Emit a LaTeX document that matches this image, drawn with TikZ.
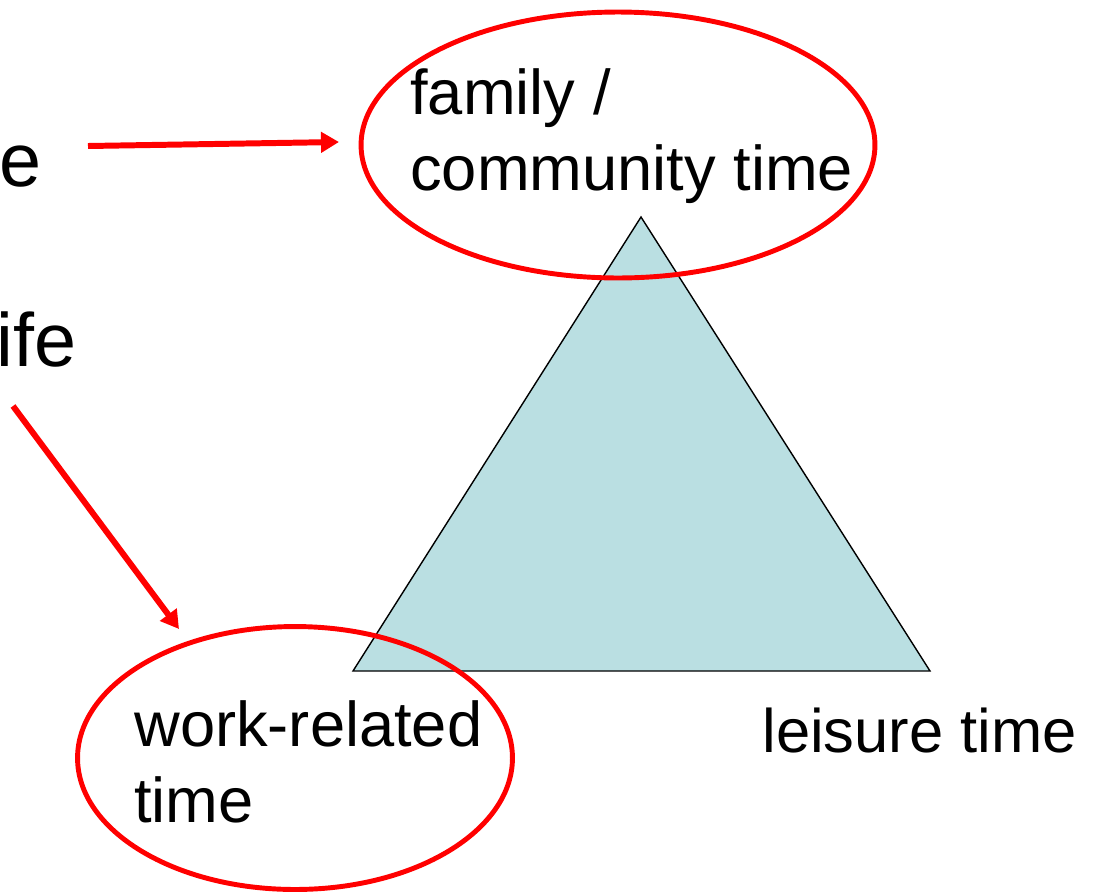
\documentclass[tikz,border=0pt]{standalone}
\usepackage{fontspec}
\setmainfont{Liberation Sans}
\usetikzlibrary{shapes.geometric, arrows.meta}

\definecolor{triblue}{RGB}{186,223,226}

\tikzset{
	lbl/.style = {anchor = base west, inner sep = 0, align = left,
		font = \fontsize{36pt}{42.7pt}\selectfont},
	biglbl/.style = {lbl, font = \fontsize{43pt}{52pt}\selectfont},
	oval/.style = {draw = red, line width = 2.8pt, ellipse, inner sep = 0},
	redarrow/.style = {draw = red, line width = 3.4pt,
		-{Triangle[length = 0.36cm, width = 0.4cm]}}
}

\begin{document}
\begin{tikzpicture}[x = 0.02cm, y = -0.02cm]
						\useasboundingbox (0, 0) rectangle (1101, 893);
						% the time triangle
						\draw[fill = triblue, line width = 0.8pt] (353, 671) -- (641, 217) -- (930, 671) -- cycle;
						% rings round two of the corners
						\node[oval, minimum width = 10.28cm, minimum height = 5.32cm] (famoval) at (618, 145) {};
						\node[oval, minimum width = 8.7cm, minimum height = 5.26cm] (workoval) at (295, 758) {};
						% base of the last line sits at the node's position
						\node[lbl] (famtxt) at (410, 190) {family /\\community time};
						\node[lbl] (worktxt) at (134, 822) {work-related\\time};
						\node[lbl, font = \fontsize{35pt}{42pt}\selectfont] (leistxt) at (762, 752) {leisure time};
						\node[biglbl] (etxt) at (-1, 186) {e};
						\node[biglbl] (ifetxt) at (-4, 366) {ife};
						% pointers
						\coordinate (famfrom) at (88, 146);
						\coordinate (famto) at (339, 142);
						\coordinate (workfrom) at (13, 406);
						\coordinate (workto) at (179, 629);
						\draw[redarrow] (famfrom) -- (famto);
						\draw[redarrow] (workfrom) -- (workto);
					\end{tikzpicture}
\end{document}
